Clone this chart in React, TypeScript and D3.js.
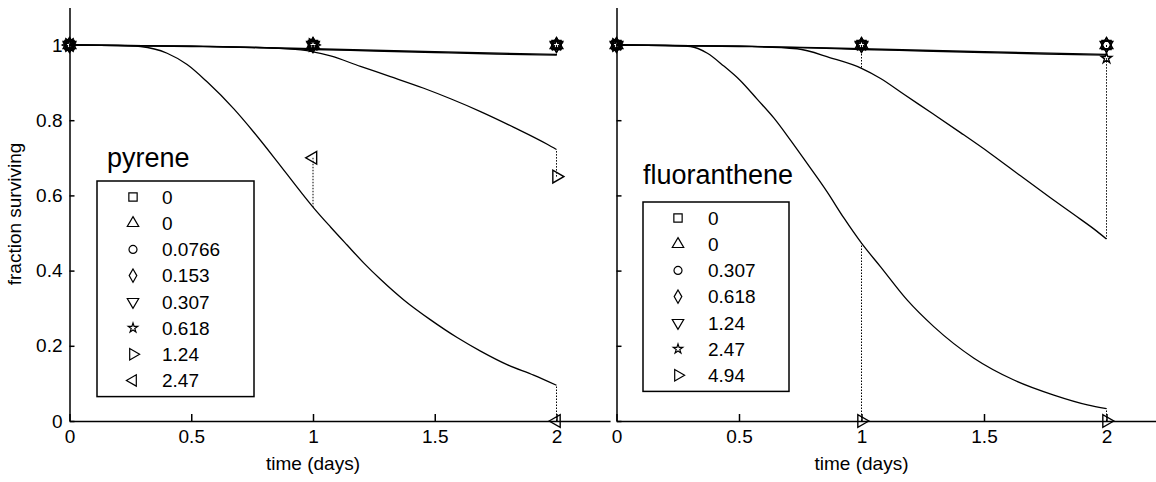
import React, { useEffect, useRef } from "react";
import * as d3 from "d3";

const W = 1156;
const H = 482;
const FONT = "'Liberation Sans', Arial, Helvetica, sans-serif";

const xTicks = [0, 0.5, 1, 1.5, 2];
const yTicks = [0, 0.2, 0.4, 0.6, 0.8, 1];
const obsTimes = [0, 1, 2];

// model curves [time, fraction surviving]
const flatCurve = [[0, 1], [0.25, 0.998], [0.5, 0.996], [0.75, 0.993], [1, 0.988], [1.25, 0.984], [1.5, 0.98], [1.75, 0.976], [2, 0.973]];
const flatCurve2 = [[0, 1], [0.5, 0.997], [1, 0.99], [1.5, 0.982], [2, 0.975]];

const pyreneMid = [[0, 1], [0.5, 0.997], [0.8, 0.993], [0.95, 0.987], [1, 0.982], [1.072, 0.971], [1.195, 0.943], [1.318, 0.916], [1.455, 0.885], [1.565, 0.857], [1.688, 0.823], [1.825, 0.781], [1.962, 0.736], [2, 0.722]];
const pyreneHigh = [[0, 1], [0.2, 0.999], [0.292, 0.996], [0.401, 0.978], [0.483, 0.948], [0.565, 0.902], [0.675, 0.83], [0.757, 0.768], [0.853, 0.69], [0.949, 0.61], [1, 0.569], [1.072, 0.516], [1.14, 0.468], [1.209, 0.42], [1.277, 0.377], [1.373, 0.322], [1.483, 0.269], [1.592, 0.222], [1.688, 0.186], [1.797, 0.15], [1.906, 0.122], [2, 0.095]];

const fluoMid = [[0, 1], [0.5, 0.997], [0.737, 0.99], [0.873, 0.966], [1, 0.938], [1.078, 0.911], [1.173, 0.869], [1.296, 0.815], [1.404, 0.767], [1.527, 0.711], [1.649, 0.652], [1.771, 0.594], [1.867, 0.549], [1.96, 0.505], [2, 0.484]];
const fluoHigh = [[0, 1], [0.2, 0.999], [0.302, 0.996], [0.371, 0.978], [0.438, 0.944], [0.506, 0.905], [0.574, 0.856], [0.642, 0.806], [0.71, 0.747], [0.778, 0.685], [0.859, 0.61], [0.928, 0.54], [1, 0.473], [1.078, 0.41], [1.186, 0.322], [1.295, 0.251], [1.459, 0.167], [1.622, 0.109], [1.785, 0.069], [1.922, 0.043], [2, 0.033]];

// observed data, one row per concentration, values at obsTimes
const pyreneConc = ["0", "0", "0.0766", "0.153", "0.307", "0.618", "1.24", "2.47"];
const pyreneMarkers = ["square", "up", "circle", "diamond", "down", "star", "right", "left"];
const pyreneObs = [[1, 1, 1], [1, 1, 1], [1, 1, 1], [1, 1, 1], [1, 1, 1], [1, 1, 1], [1, 1, 0.65], [1, 0.7, 0]];
const pyreneFit = [flatCurve, flatCurve2, flatCurve, flatCurve2, flatCurve, flatCurve2, pyreneMid, pyreneHigh];

const fluoConc = ["0", "0", "0.307", "0.618", "1.24", "2.47", "4.94"];
const fluoMarkers = ["square", "up", "circle", "diamond", "down", "star", "right"];
const fluoObs = [[1, 1, 1], [1, 1, 1], [1, 1, 1], [1, 1, 1], [1, 1, 1], [1, 1, 0.965], [1, 0, 0]];
const fluoFit = [flatCurve, flatCurve2, flatCurve, flatCurve2, flatCurve, fluoMid, fluoHigh];

const markerPath = (kind: string, scale = 1) => {
  const s = scale;
  switch (kind) {
    case "square":
      return { d: d3.symbol(d3.symbolSquare, 85 * s * s)(), rot: 0 };
    case "circle":
      return { d: d3.symbol(d3.symbolCircle, 62 * s * s)(), rot: 0 };
    case "diamond":
      return { d: d3.symbol(d3.symbolDiamond, 62 * s * s)(), rot: 0 };
    case "star":
      return { d: d3.symbol(d3.symbolStar, 34 * s * s)(), rot: 0 };
    case "up":
      return { d: d3.symbol(d3.symbolTriangle, 70 * s * s)(), rot: 0 };
    case "down":
      return { d: d3.symbol(d3.symbolTriangle, 70 * s * s)(), rot: 180 };
    case "right":
      return { d: d3.symbol(d3.symbolTriangle, 70 * s * s)(), rot: 90 };
    default:
      return { d: d3.symbol(d3.symbolTriangle, 70 * s * s)(), rot: -90 };
  }
};

const valueAt = (curve: number[][], t: number) => {
  const hit = curve.find((p) => p[0] === t);
  return hit ? hit[1] : curve[curve.length - 1][1];
};

type PanelOpts = {
  left: number;
  perDay: number;
  showYLabels: boolean;
  title: string;
  titleX: number;
  titleY: number;
  legend: { x: number; y: number; w: number; mx: number; tx: number; row0: number };
  conc: string[];
  markers: string[];
  obs: number[][];
  fit: number[][][];
};

const drawPanel = (svg: any, o: PanelOpts) => {
  const xMax = 2.22;
  const x = d3.scaleLinear().domain([0, xMax]).range([o.left, o.left + xMax * o.perDay]);
  const y = d3.scaleLinear().domain([0, 1.1]).range([421, 421 - 1.1 * 376]);
  const g = svg.append("g");

  // model curves
  const curveLine = d3
    .line<number[]>()
    .x((d) => x(d[0]))
    .y((d) => y(d[1]))
    .curve(d3.curveMonotoneX);
  const uniq = Array.from(new Set(o.fit));
  g.append("g")
    .selectAll("path")
    .data(uniq)
    .enter()
    .append("path")
    .attr("d", (d: number[][]) => curveLine(d))
    .attr("fill", "none")
    .attr("stroke", "#000")
    .attr("stroke-width", 1.3);

  // dotted residual lines from data to fit
  const resid: { t: number; a: number; b: number }[] = [];
  o.obs.forEach((row, i) => {
    row.forEach((v, j) => {
      const m = valueAt(o.fit[i], obsTimes[j]);
      if (Math.abs(m - v) > 0.01) resid.push({ t: obsTimes[j], a: v, b: m });
    });
  });
  g.append("g")
    .selectAll("line")
    .data(resid)
    .enter()
    .append("line")
    .attr("x1", (d: any) => x(d.t))
    .attr("x2", (d: any) => x(d.t))
    .attr("y1", (d: any) => y(d.a))
    .attr("y2", (d: any) => y(d.b))
    .attr("stroke", "#000")
    .attr("stroke-width", 1)
    .attr("stroke-dasharray", "1.5,1.5");

  // axes
  const gx = g
    .append("g")
    .attr("transform", `translate(0,${y(0)})`)
    .call(
      d3.axisBottom(x).tickValues(xTicks).tickSizeInner(-7).tickSizeOuter(0).tickPadding(9).tickFormat(d3.format(""))
    );
  const gy = g
    .append("g")
    .attr("transform", `translate(${x(0)},0)`)
    .call(
      d3
        .axisLeft(y)
        .tickValues(yTicks)
        .tickSizeInner(-5)
        .tickSizeOuter(0)
        .tickPadding(7)
        .tickFormat(o.showYLabels ? d3.format("") : () => "")
    );
  [gx, gy].forEach((a) => {
    a.attr("font-size", 19).attr("font-family", FONT);
    a.select(".domain").attr("stroke-width", 1.5);
    a.selectAll(".tick line").attr("stroke-width", 1.5);
    a.selectAll(".tick text").attr("fill", "#000");
  });

  // data markers
  o.obs.forEach((row, i) => {
    const mk = markerPath(o.markers[i], 1);
    row.forEach((v, j) => {
      g.append("path")
        .attr("d", mk.d)
        .attr("transform", `translate(${x(obsTimes[j])},${y(v)}) rotate(${mk.rot})`)
        .attr("fill", "none")
        .attr("stroke", "#000")
        .attr("stroke-width", 1.4);
    });
  });

  g.append("text")
    .attr("x", x(1))
    .attr("y", 470)
    .attr("text-anchor", "middle")
    .attr("font-family", FONT)
    .attr("font-size", 19)
    .text("time (days)");

  // legend
  const L = o.legend;
  const rowH = 26.2;
  const lg = g.append("g");
  lg.append("rect")
    .attr("x", L.x)
    .attr("y", L.y)
    .attr("width", L.w)
    .attr("height", o.conc.length * rowH + 6)
    .attr("fill", "#fff")
    .attr("stroke", "#000")
    .attr("stroke-width", 1.5);
  o.conc.forEach((c, i) => {
    const mk = markerPath(o.markers[i], 0.9);
    const ry = L.row0 + i * rowH;
    lg.append("path")
      .attr("d", mk.d)
      .attr("transform", `translate(${L.mx},${ry}) rotate(${mk.rot})`)
      .attr("fill", "none")
      .attr("stroke", "#000")
      .attr("stroke-width", 1.2);
    lg.append("text")
      .attr("x", L.tx)
      .attr("y", ry)
      .attr("dy", "0.36em")
      .attr("font-family", FONT)
      .attr("font-size", 19)
      .text(c);
  });

  g.append("text")
    .attr("x", o.titleX)
    .attr("y", o.titleY)
    .attr("font-family", FONT)
    .attr("font-size", 27)
    .text(o.title);
};

const App = () => {
  const svgRef = useRef<SVGSVGElement>(null);

  useEffect(() => {
    const svg = d3.select(svgRef.current);
    svg.selectAll("*").remove();
    svg.append("rect").attr("width", W).attr("height", H).attr("fill", "#fff");

    drawPanel(svg, {
      left: 69.5,
      perDay: 243.5,
      showYLabels: true,
      title: "pyrene",
      titleX: 107,
      titleY: 167,
      legend: { x: 97, y: 181, w: 157, mx: 133, tx: 162, row0: 197 },
      conc: pyreneConc,
      markers: pyreneMarkers,
      obs: pyreneObs,
      fit: pyreneFit,
    });
    drawPanel(svg, {
      left: 616.5,
      perDay: 245,
      showYLabels: false,
      title: "fluoranthene",
      titleX: 643,
      titleY: 184,
      legend: { x: 643, y: 202, w: 146, mx: 678, tx: 708, row0: 218 },
      conc: fluoConc,
      markers: fluoMarkers,
      obs: fluoObs,
      fit: fluoFit,
    });

    svg
      .append("text")
      .attr("transform", "translate(21,214) rotate(-90)")
      .attr("text-anchor", "middle")
      .attr("font-family", FONT)
      .attr("font-size", 19)
      .text("fraction surviving");
  }, []);

  return (
    <svg
      ref={svgRef}
      width={W}
      height={H}
      style={{ position: "absolute", left: 0, top: 0 }}
    ></svg>
  );
};

export default App;
